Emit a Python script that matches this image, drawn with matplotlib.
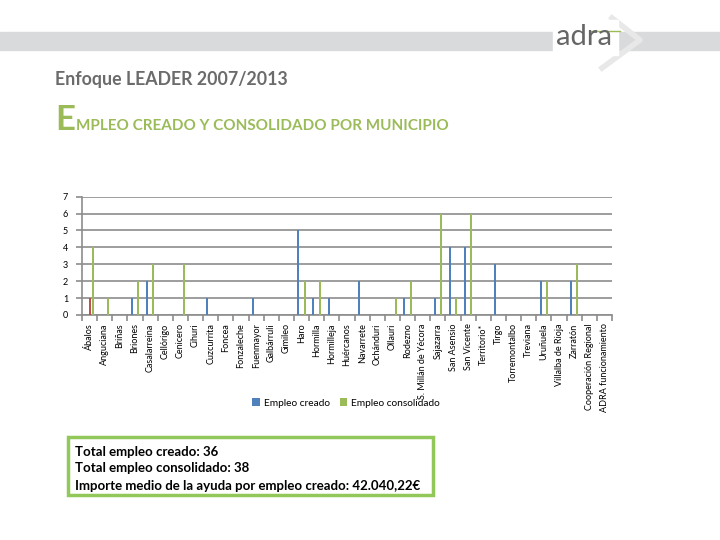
import matplotlib
matplotlib.use("Agg")
import matplotlib.pyplot as plt
import numpy as np
from matplotlib.patches import Rectangle, Patch
from matplotlib.lines import Line2D

municipios = ["Ábalos", "Anguciana", "Briñas", "Briones", "Casalarreina", "Cellórigo",
              "Cenicero", "Cihuri", "Cuzcurrita", "Foncea", "Fonzaleche", "Fuenmayor",
              "Galbárruli", "Gimileo", "Haro", "Hormilla", "Hormilleja", "Huércanos",
              "Navarrete", "Ochánduri", "Ollauri", "Rodezno", "S. Millán de Yécora",
              "Sajazarra", "San Asensio", "San Vicente", "Territorio*", "Tirgo",
              "Torremontalbo", "Treviana", "Uruñuela", "Villalba de Rioja", "Zarratón",
              "Cooperación Regional", "ADRA funcionamiento"]
empleo_creado = [0, 0, 0, 1, 2, 0, 0, 0, 1, 0, 0, 1, 0, 0, 5, 1, 1, 0, 2, 0, 0, 1, 0,
                 1, 4, 4, 0, 3, 0, 0, 2, 0, 2, 0, 0]
empleo_otro = [1] + [0] * 34
empleo_consolidado = [4, 1, 0, 2, 3, 0, 3, 0, 0, 0, 0, 0, 0, 0, 2, 2, 0, 0, 0, 0, 1, 2, 0,
                      6, 1, 6, 0, 0, 0, 0, 2, 0, 3, 0, 0]

BLUE = "#4F81BD"
GREEN = "#9BBB59"
RED = "#C0504D"
FONT = ["Lato", "DejaVu Sans"]
plt.rcParams["font.family"] = FONT

fig = plt.figure(figsize=(7.2, 5.4), dpi=100)

# header band
fig.patches.append(Rectangle((0, 1 - 50 / 540), 1, 18 / 540, transform=fig.transFigure,
                             color="#D9DADB", zorder=0))
fig.lines.append(Line2D([612 / 720, 640 / 720, 602 / 720],
                        [1 - 18 / 540, 1 - 40 / 540, 1 - 68 / 540],
                        transform=fig.transFigure, color="#E8E8E8", lw=4, zorder=1))
fig.patches.append(Rectangle((553 / 720, 1 - 55 / 540), 65 / 720, 35 / 540,
                             transform=fig.transFigure, color="white", zorder=1))
fig.text(556 / 720, 1 - 37 / 540, "adra", fontsize=21, color="#666666",
         va="center", ha="left", zorder=2, weight="normal")
fig.lines.append(Line2D([590 / 720, 620 / 720], [1 - 31 / 540, 1 - 31 / 540],
                        transform=fig.transFigure, color=GREEN, lw=1, zorder=2))

fig.text(55 / 720, 1 - 80 / 540, "Enfoque LEADER 2007/2013", fontsize=12.8,
         color="#6B6B6B", va="center", ha="left", weight="bold")
fig.text(55 / 720, 1 - 130 / 540, "E", fontsize=25, color=GREEN, va="baseline",
         ha="left", weight="bold")
fig.text(76 / 720, 1 - 130 / 540, "MPLEO CREADO Y CONSOLIDADO POR MUNICIPIO", fontsize=11,
         color=GREEN, va="baseline", ha="left", weight="bold")

ax = fig.add_axes([82 / 720, 1 - 315 / 540, 530 / 720, (315 - 196.7) / 540])
x = np.arange(len(municipios))
w = 0.13
off = 0.22
ax.bar(x - off, empleo_creado, w, color=BLUE, label="Empleo creado", zorder=3)
ax.bar(x, empleo_otro, w, color=RED, zorder=3)
ax.bar(x + off, empleo_consolidado, w, color=GREEN, label="Empleo consolidado", zorder=3)

ax.set_xlim(-0.5, len(municipios) - 0.5)
ax.set_ylim(0, 7)
ax.set_yticks(range(0, 8))
ax.yaxis.grid(True, color="#8C8C8C", lw=1.2)
ax.set_axisbelow(True)
for s in ["top", "right"]:
    ax.spines[s].set_visible(False)
for s in ["left", "bottom"]:
    ax.spines[s].set_color("#8C8C8C")
    ax.spines[s].set_linewidth(1.2)
ax.set_xticks(x)
ax.set_xticklabels(municipios, rotation=90, fontsize=6.5)
ax.set_xticks(np.arange(-0.5, len(municipios)), minor=True)
ax.tick_params(axis="x", which="major", length=0, pad=6)
ax.tick_params(axis="x", which="minor", length=4, color="#8C8C8C", width=1.2)
ax.tick_params(axis="y", length=4, color="#8C8C8C", width=1.2, labelsize=6.5, pad=6)

handles = [Patch(facecolor=BLUE), Patch(facecolor=GREEN)]
labels = ["Empleo creado", "Empleo consolidado"]
fig.legend(handles, labels, loc="center", bbox_to_anchor=(346 / 720, 1 - 403 / 540),
           ncol=2, frameon=False, fontsize=7.3, handlelength=0.7, handleheight=0.7,
           columnspacing=1.0, handletextpad=0.4)

# summary box
fig.patches.append(Rectangle((68 / 720, 1 - 495 / 540), 365 / 720, 58 / 540,
                             transform=fig.transFigure, facecolor="white",
                             edgecolor="#92C85A", lw=2.5, zorder=1))
lines = ["Total empleo creado: 36", "Total empleo consolidado: 38",
         "Importe medio de la ayuda por empleo creado: 42.040,22€"]
for t, yy in zip(lines, [452, 468, 486]):
    fig.text(75 / 720, 1 - yy / 540, t, fontsize=9.5, color="black", va="center",
             ha="left", weight="bold", zorder=2)

fig.savefig("out.png", dpi=100)
